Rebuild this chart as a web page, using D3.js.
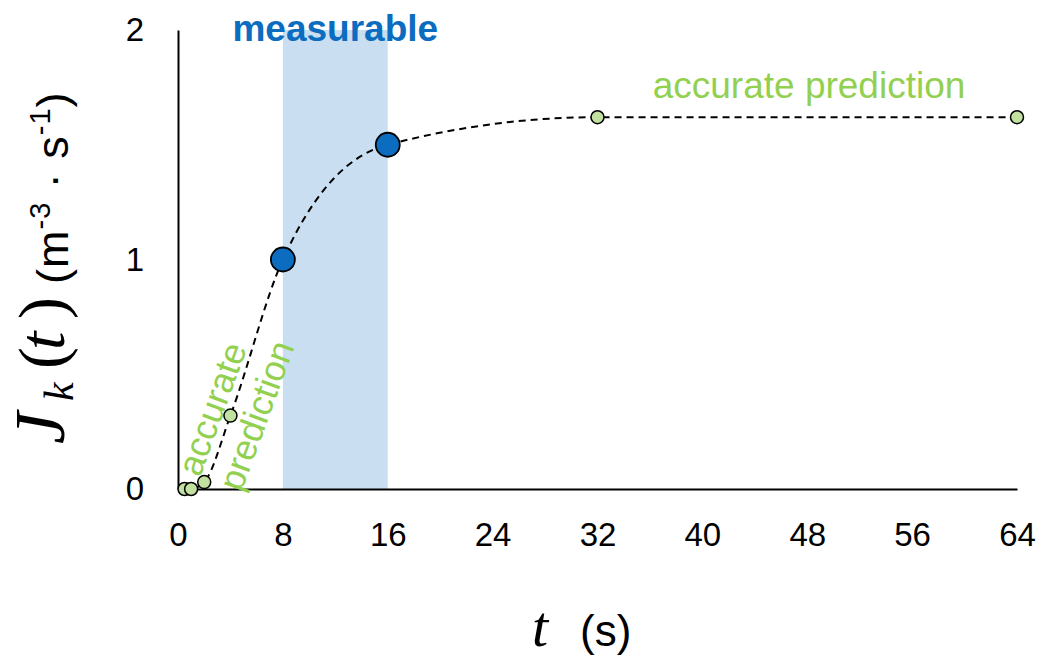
<!DOCTYPE html>
<html>
<head>
<meta charset="utf-8">
<script src="https://cdn.jsdelivr.net/npm/d3@7"></script>
<style>
  body { margin: 0; background: #fff; }
  svg { display: block; }
</style>
</head>
<body>
<svg id="chart"></svg>
<script>
const times = [0.5, 1, 2, 4, 8, 16, 32, 64]
const flux = [0, 0, 0.03, 0.32, 1.0, 1.5, 1.62, 1.62]
const measured = [false, false, false, false, true, true, false, false]
const xTicks = [0, 8, 16, 24, 32, 40, 48, 56, 64]
const yTicks = [0, 1, 2]
const band = [8, 16]

const width = 1044
const height = 660
const margin = { left: 178, right: 27, top: 30, bottom: 171 }

const blue = '#0b6cc0'
const green = '#92d050'
const sans = 'Liberation Sans, Arial, sans-serif'
const serif = 'Liberation Serif, serif'

const svg = d3.select('#chart').attr('width', width).attr('height', height)

const x = d3.scaleLinear().domain([0, 64]).range([margin.left, width - margin.right])
const y = d3.scaleLinear().domain([0, 2]).range([height - margin.bottom, margin.top])

const pts = times.map((t, i) => ({ t, v: flux[i], m: measured[i] }))

// measurable window
svg.append('rect')
  .attr('x', x(band[0]))
  .attr('y', y(2))
  .attr('width', x(band[1]) - x(band[0]))
  .attr('height', y(0) - y(2))
  .attr('fill', '#c9dff1')

// axes: bare lines with labels, no tick marks
const xAxis = svg.append('g')
  .attr('transform', `translate(0,${y(0)})`)
  .call(d3.axisBottom(x).tickValues(xTicks).tickSize(0).tickPadding(34))
xAxis.select('.domain').attr('stroke', '#000').attr('stroke-width', 2)
xAxis.selectAll('text')
  .attr('font-family', sans)
  .attr('font-size', 33)
  .attr('fill', '#000')

const yAxis = svg.append('g')
  .attr('transform', `translate(${x(0)},0)`)
  .call(d3.axisLeft(y).tickValues(yTicks).tickFormat(d3.format('d')).tickSize(0).tickPadding(34))
yAxis.select('.domain').attr('stroke', '#000').attr('stroke-width', 2)
yAxis.selectAll('text')
  .attr('font-family', sans)
  .attr('font-size', 33)
  .attr('fill', '#000')

// dashed fit curve
const line = d3.line()
  .x(d => x(d.t))
  .y(d => y(d.v))
  .curve(d3.curveMonotoneX)

svg.append('path')
  .datum(pts)
  .attr('d', line)
  .attr('fill', 'none')
  .attr('stroke', '#000')
  .attr('stroke-width', 2)
  .attr('stroke-dasharray', '7,5')

// rotated label near the origin
const rot = svg.append('text')
  .attr('transform', 'translate(200,478) rotate(-70)')
  .attr('font-family', sans)
  .attr('font-size', 36)
  .attr('fill', green)
rot.append('tspan').attr('x', 0).attr('dy', 0).text('accurate')
rot.append('tspan').attr('x', 0).attr('dy', 44).text('prediction')

// markers
svg.append('g')
  .selectAll('circle')
  .data(pts)
  .join('circle')
  .attr('cx', d => x(d.t))
  .attr('cy', d => y(d.v))
  .attr('r', d => d.m ? 12 : 6.5)
  .attr('fill', d => d.m ? blue : '#c2e09f')
  .attr('stroke', '#000')
  .attr('stroke-width', d => d.m ? 1.8 : 1.5)

// annotations
svg.append('text')
  .attr('x', x(12))
  .attr('y', 41)
  .attr('text-anchor', 'middle')
  .attr('font-family', sans)
  .attr('font-size', 37)
  .attr('font-weight', 'bold')
  .attr('fill', blue)
  .text('measurable')

svg.append('text')
  .attr('x', 809)
  .attr('y', 98)
  .attr('text-anchor', 'middle')
  .attr('font-family', sans)
  .attr('font-size', 37)
  .attr('fill', green)
  .text('accurate prediction')

// x title
svg.append('text')
  .attr('x', 532)
  .attr('y', 646)
  .attr('font-family', serif)
  .attr('font-style', 'italic')
  .attr('font-size', 58)
  .text('t')
svg.append('text')
  .attr('x', 580)
  .attr('y', 646)
  .attr('font-family', sans)
  .attr('font-size', 44)
  .text('(s)')

// y title, rotated; x positions are minus the screen y where each piece starts
const yt = svg.append('text')
  .attr('transform', 'translate(64,0) rotate(-90)')
yt.append('tspan').attr('x', -444).attr('font-family', serif).attr('font-style', 'italic').attr('font-size', 72).text('J')
yt.append('tspan').attr('x', -401).attr('dy', 9).attr('font-family', serif).attr('font-style', 'italic').attr('font-size', 42).text('k')
yt.append('tspan').attr('x', -369).attr('dy', -9).attr('font-family', serif).attr('font-size', 66).text('(')
yt.append('tspan').attr('x', -350).attr('font-family', serif).attr('font-style', 'italic').attr('font-size', 66).text('t')
yt.append('tspan').attr('x', -319).attr('font-family', serif).attr('font-size', 66).text(')')
const yUnits = yt.append('tspan').attr('x', -284).attr('dy', 4).attr('font-family', sans).attr('letter-spacing', 1)
yUnits.append('tspan').attr('font-size', 45).text('(m')
yUnits.append('tspan').attr('font-size', 29).attr('dy', -18).text('-3')
yUnits.append('tspan').attr('font-size', 45).attr('dy', 18).text(' \u00b7 s')
yUnits.append('tspan').attr('font-size', 29).attr('dy', -18).text('-1')
yUnits.append('tspan').attr('font-size', 45).attr('dy', 18).text(')')
</script>
</body>
</html>
